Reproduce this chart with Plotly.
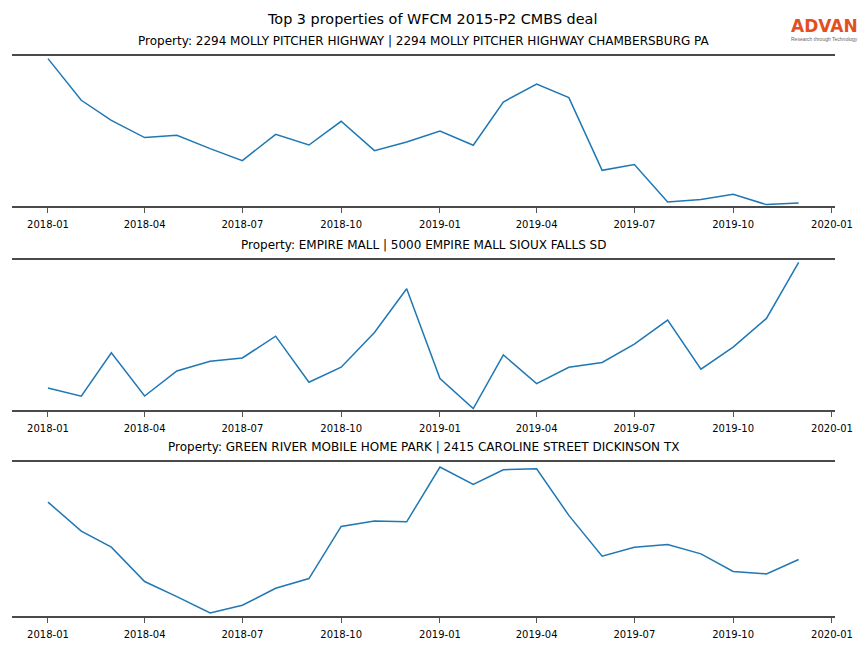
import plotly.graph_objects as go
from plotly.subplots import make_subplots
import pandas as pd

months = pd.date_range("2018-01-01", "2019-12-01", freq="MS")

titles = [
    "Property: 2294 MOLLY PITCHER HIGHWAY | 2294 MOLLY PITCHER HIGHWAY CHAMBERSBURG PA",
    "Property: EMPIRE MALL | 5000 EMPIRE MALL SIOUX FALLS SD",
    "Property: GREEN RIVER MOBILE HOME PARK | 2415 CAROLINE STREET DICKINSON TX",
]

molly = [147.4, 105.7, 85.7, 68.4, 70.7, 57.4, 45.4, 71.7, 61.0, 84.7, 55.4, 64.0,
         75.0, 60.7, 104.0, 122.0, 108.4, 35.7, 41.4, 4.0, 6.4, 11.7, 1.4, 3.0]
empire = [22.0, 13.7, 57.0, 14.0, 39.0, 48.7, 52.0, 73.7, 27.7, 42.7, 77.4, 121.0,
          31.4, 1.4, 55.0, 26.4, 42.7, 47.4, 65.7, 89.7, 40.7, 62.7, 91.4, 147.4]
green = [113.7, 84.7, 68.7, 34.4, 19.4, 3.0, 10.7, 27.7, 37.4, 89.4, 94.7, 94.0,
         148.7, 131.4, 146.0, 147.0, 100.4, 59.7, 68.7, 71.4, 62.0, 44.4, 42.0, 56.4]

series = [molly, empire, green]
y_ranges = [[0, 150], [0, 149.7], [0, 153.7]]

tick_vals = pd.date_range("2018-01-01", "2020-01-01", freq="3MS")
tick_text = [d.strftime("%Y-%m") for d in tick_vals]

H = 648.0
px_dom = [(56, 206), (260, 410), (462, 616)]
domains = [[1 - b / H, 1 - t / H] for t, b in px_dom]

fig = make_subplots(rows=3, cols=1)

FONT = "DejaVu Sans"
SPINE = "#4a4a4a"

for i, vals in enumerate(series):
    r = i + 1
    fig.add_trace(go.Scatter(x=months, y=vals, mode="lines",
                             line=dict(color="#1f77b4", width=1.5),
                             showlegend=False, hoverinfo="skip"), row=r, col=1)
    fig.update_xaxes(row=r, col=1,
                     range=["2017-11-28 12:00", "2020-01-03 20:00"],
                     tickvals=tick_vals, ticktext=tick_text,
                     ticks="outside", ticklen=5, tickwidth=1, tickcolor="#555555",
                     ticklabelstandoff=3,
                     tickfont=dict(family=FONT, size=10, color="#000000"),
                     showgrid=False, zeroline=False,
                     showline=True, linecolor=SPINE, linewidth=2, mirror=True)
    fig.update_yaxes(row=r, col=1, range=y_ranges[i], domain=domains[i],
                     showticklabels=False, ticks="", showgrid=False,
                     zeroline=False, showline=False)
    fig.add_annotation(text=titles[i], xref="paper", yref="paper",
                       x=0.5, y=domains[i][1] + 6 / H, yanchor="bottom",
                       xanchor="center", showarrow=False,
                       font=dict(family=FONT, size=12, color="#000000"))

fig.add_annotation(text="Top 3 properties of WFCM 2015-P2 CMBS deal",
                   xref="paper", yref="paper", x=(432 - 12) / 823, y=1 - 19 / H,
                   xanchor="center", yanchor="middle", showarrow=False,
                   font=dict(family=FONT, size=14.4, color="#000000"))

# logo
fig.add_annotation(text="<b>ADVAN</b>", xref="paper", yref="paper",
                   x=(824.5 - 12) / 823, y=1 - 26 / H, xanchor="center", yanchor="middle",
                   showarrow=False, borderpad=0,
                   font=dict(family="DejaVu Sans", size=17, color="#e3501f"))
fig.add_annotation(text="Research through Technology", xref="paper", yref="paper",
                   x=(824 - 12) / 823, y=1 - 39 / H, xanchor="center", yanchor="middle",
                   showarrow=False, borderpad=0,
                   font=dict(family="Liberation Sans", size=5, color="#666666"))

fig.update_layout(width=864, height=648,
                  margin=dict(l=12, r=29, t=0, b=0, autoexpand=False),
                  plot_bgcolor="white", paper_bgcolor="white")

fig.write_html("out.html", config={"displayModeBar": False},
               post_script="document.body.style.margin='0';")
